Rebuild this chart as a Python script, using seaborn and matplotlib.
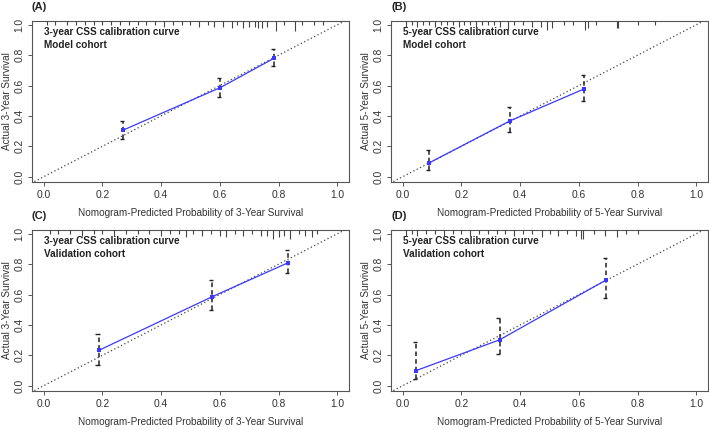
import numpy as np
import pandas as pd
import matplotlib
matplotlib.use("Agg")
import matplotlib.pyplot as plt
import seaborn as sns

sns.set_theme(style="ticks")
plt.rcParams['font.family'] = ['Liberation Sans', 'DejaVu Sans']

# Daten
tags = ["(A)", "(B)", "(C)", "(D)"]
years = [3, 5, 3, 5]
cohorts = ["Model cohort", "Model cohort", "Validation cohort", "Validation cohort"]

pred = [[0.271, 0.602, 0.786],
        [0.091, 0.365, 0.618],
        [0.187, 0.573, 0.833],
        [0.045, 0.330, 0.692]]
obs = [[0.307, 0.587, 0.781],
       [0.092, 0.367, 0.578],
       [0.232, 0.585, 0.810],
       [0.099, 0.302, 0.695]]
ci_lo = [[0.247, 0.523, 0.732],
         [0.044, 0.295, 0.498],
         [0.139, 0.497, 0.740],
         [0.044, 0.210, 0.578]]
ci_hi = [[0.368, 0.653, 0.840],
         [0.175, 0.459, 0.672],
         [0.342, 0.695, 0.894],
         [0.287, 0.448, 0.843]]

# Rug oben: Position und relative Häufigkeit
rug_a_x = [0.01, 0.04, 0.08, 0.11, 0.14, 0.17, 0.20, 0.23, 0.26, 0.29, 0.32, 0.35, 0.38, 0.41,
           0.44, 0.47, 0.50, 0.53, 0.56, 0.58, 0.61, 0.64, 0.66, 0.68, 0.70, 0.72, 0.73, 0.745,
           0.76, 0.79, 0.82, 0.857, 0.88, 0.92, 0.95]
rug_a_n = [1, 1, 1, 1, 1, 1, 1, 1, 1, 1, 1, 1, 1, 2,
           1, 1, 1, 2, 1, 2, 2, 3, 1, 3, 2, 2, 3, 3,
           2, 5, 1, 5, 1, 1, 1]
rug_b_x = [0.01, 0.03, 0.05, 0.07, 0.09, 0.11, 0.13, 0.15, 0.17, 0.19, 0.21, 0.23, 0.25, 0.27,
           0.29, 0.31, 0.33, 0.357, 0.38, 0.41, 0.44, 0.47, 0.49, 0.51, 0.55, 0.58, 0.62, 0.63,
           0.66, 0.73, 0.735, 0.80, 0.86]
rug_b_n = [2, 1, 2, 1, 1, 2, 1, 1, 1, 2, 1, 1, 2, 1,
           1, 1, 2, 4, 1, 1, 2, 2, 4, 3, 1, 1, 4, 3,
           1, 3, 3, 1, 1]
rug_c_x = [0.02, 0.05, 0.09, 0.13, 0.17, 0.20, 0.24, 0.28, 0.32, 0.36, 0.40, 0.43, 0.46, 0.484,
           0.51, 0.54, 0.57, 0.60, 0.62, 0.65, 0.68, 0.71, 0.74, 0.76, 0.78, 0.80, 0.82, 0.84,
           0.87, 0.89, 0.915, 0.93]
rug_c_n = [1, 1, 1, 2, 1, 1, 2, 1, 1, 1, 2, 1, 1, 3,
           1, 2, 1, 2, 3, 1, 2, 1, 2, 2, 4, 3, 2, 4,
           1, 2, 3, 1]
rug_d_x = [0.01, 0.03, 0.05, 0.08, 0.11, 0.14, 0.17, 0.20, 0.23, 0.26, 0.29, 0.32, 0.35, 0.38,
           0.41, 0.44, 0.476, 0.50, 0.53, 0.56, 0.59, 0.607, 0.615, 0.65, 0.69, 0.73, 0.76, 0.80]
rug_d_n = [2, 1, 2, 1, 1, 2, 1, 1, 2, 1, 1, 1, 1, 2,
           1, 1, 3, 1, 2, 1, 2, 4, 4, 1, 2, 3, 1, 1]
rugs = [(rug_a_x, rug_a_n), (rug_b_x, rug_b_n), (rug_c_x, rug_c_n), (rug_d_x, rug_d_n)]

ticks = [0.0, 0.2, 0.4, 0.6, 0.8, 1.0]
txt = "#333333"
box = "#555555"

fig = plt.figure(figsize=(7.09, 4.30), dpi=100)
W, H = 709, 430
boxes = [(32, 21), (391, 21), (32, 230), (391, 230)]
aw, ah = 317, 161

for i in range(4):
    l, t = boxes[i]
    ax = fig.add_axes([l / W, 1 - (t + ah) / H, aw / W, ah / H])

    # Idealdiagonale
    ax.plot([-0.1, 1.1], [-0.1, 1.1], linestyle=(0, (1, 2)), color="#444444", lw=0.9, zorder=1)

    df = pd.DataFrame({"pred": pred[i], "obs": obs[i], "lo": ci_lo[i], "hi": ci_hi[i]})

    # Konfidenzintervalle
    ax.vlines(df["pred"], df["lo"], df["hi"], colors="#222222", linestyles=(0, (3, 2)),
              lw=1.1, zorder=3)
    ax.hlines(df["lo"], df["pred"] - 0.011, df["pred"] + 0.003, colors="#222222", lw=1.0, zorder=3)
    ax.hlines(df["hi"], df["pred"] - 0.011, df["pred"] + 0.003, colors="#222222", lw=1.0, zorder=3)

    sns.lineplot(data=df, x="pred", y="obs", ax=ax, color="#3a3aff", lw=0.9, marker="s",
                 markersize=3.2, markeredgewidth=0, zorder=4)

    ax.set_xlim(-0.04, 1.04)
    ax.set_ylim(-0.035, 1.025)

    # Rug oben (Achsenkoordinaten in y)
    rx, rn = rugs[i]
    rug_len = 0.015 + np.array(rn) * 0.01
    for xv, ln in zip(rx, rug_len):
        ax.plot([xv, xv], [1.0, 1.0 - ln], color="#444444", lw=0.8, zorder=5,
                transform=ax.get_xaxis_transform(), solid_capstyle="butt")

    ax.text(0.0, 0.985, f"{years[i]}-year CSS calibration curve\n{cohorts[i]}",
            fontsize=7.2, fontweight="bold", color="#222222", va="top", ha="left",
            linespacing=1.35)
    ax.text(0.0, 1.055, tags[i], transform=ax.transAxes, fontsize=8, fontweight="bold",
            color="#222222", ha="left", va="bottom")

    ax.set_xticks(ticks)
    ax.set_yticks(ticks)
    ax.set_xticklabels([f"{v:.1f}" for v in ticks])
    ax.set_yticklabels([f"{v:.1f}" for v in ticks], rotation=90, va="center")
    ax.tick_params(axis="both", labelsize=7.4, colors=box, labelcolor=txt, length=3,
                   width=0.7, pad=2.5)
    for s in ax.spines.values():
        s.set_visible(True)
        s.set_color(box)
        s.set_linewidth(0.8)

    ax.set_xlabel(f"Nomogram-Predicted Probability of {years[i]}-Year Survival",
                  fontsize=7.2, color=txt)
    ax.set_ylabel(f"Actual {years[i]}-Year Survival", fontsize=7.2, color=txt)
    ax.xaxis.set_label_coords(0.5, -0.16)
    ax.yaxis.set_label_coords(-0.062, 0.5)

plt.savefig("out.png", dpi=100)
